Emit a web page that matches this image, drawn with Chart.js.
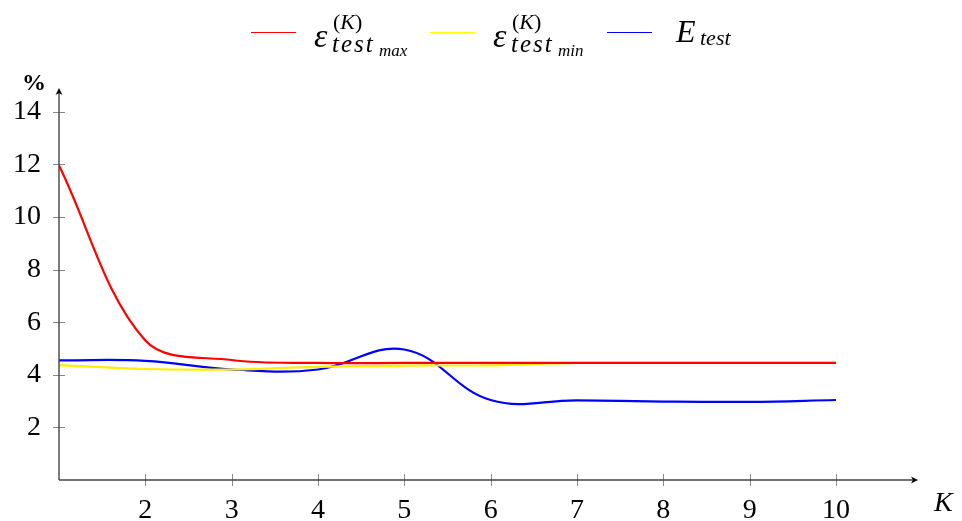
<!DOCTYPE html>
<html>
<head>
<meta charset="utf-8">
<script src="https://cdn.jsdelivr.net/npm/chart.js@4"></script>
<style>
    body { margin: 0; background: #fff; }
    #wrap { position: relative; width: 962px; height: 521px; font-family: "Liberation Serif", serif; }
    canvas { position: absolute; left: 0; top: 0; }
    .sw { position: absolute; top: 32px; height: 1.3px; width: 45px; }
    .t { position: absolute; line-height: 1; white-space: nowrap; font-style: italic; color: #000; }
    .ax { position: absolute; font-size: 28px; line-height: 1; }
</style>
</head>
<body>
<div id="wrap">
    <canvas id="myChart" width="962" height="521"></canvas>

    <!-- legend, drawn as text so the sub/superscripts stay real text -->
    <div class="sw" style="left:251px; background:#ff0000;"></div>
    <span class="t" style="left:314px; top:19px; font-size:34px;">ε</span>
    <span class="t" style="left:333px; top:11px; font-size:22px; font-style:normal;">(<i>K</i>)</span>
    <span class="t" style="left:332px; top:31px; font-size:25px; letter-spacing:2px;">test</span>
    <span class="t" style="left:379px; top:42px; font-size:17px;">max</span>

    <div class="sw" style="left:430px; background:#ffff00;"></div>
    <span class="t" style="left:493px; top:19px; font-size:34px;">ε</span>
    <span class="t" style="left:512px; top:11px; font-size:22px; font-style:normal;">(<i>K</i>)</span>
    <span class="t" style="left:511px; top:31px; font-size:25px; letter-spacing:2px;">test</span>
    <span class="t" style="left:558px; top:42px; font-size:17px;">min</span>

    <div class="sw" style="left:607px; background:#0000ff;"></div>
    <span class="t" style="left:676px; top:15px; font-size:32px;">E</span>
    <span class="t" style="left:700px; top:27px; font-size:22px;">test</span>

    <div class="ax" style="left:22px; top:70px; font-weight:bold; font-size:24px;">%</div>
    <div class="ax" style="left:934px; top:488px; font-style:italic;">K</div>
</div>

<script>
// x positions (K) and the three series, in %
const kValues = [1, 2, 3, 4, 5, 6, 7, 8, 9, 10];
const epsMax = [11.95, 5.3, 4.56, 4.45, 4.45, 4.45, 4.45, 4.45, 4.45, 4.45];
const epsMin = [4.37, 4.22, 4.2, 4.3, 4.35, 4.36, 4.45, 4.45, 4.45, 4.45];
const eTest = [4.55, 4.53, 4.2, 4.2, 4.96, 3.04, 3.03, 2.98, 2.97, 3.04];

const xTicks = [2, 3, 4, 5, 6, 7, 8, 9, 10];
const yTicks = [2, 4, 6, 8, 10, 12, 14];

function toPoints(ys) {
    return kValues.map((k, i) => ({ x: k, y: ys[i] }));
}

// axes with arrows and ticks crossing the axis line
const axesPlugin = {
    id: 'axes',
    afterDatasetsDraw(chart) {
        const ctx = chart.ctx;
        const xs = chart.scales.x;
        const ys = chart.scales.y;
        const x0 = xs.left, y0 = ys.bottom;
        const xEnd = xs.right, yEnd = ys.top;
        ctx.save();

        // ticks
        ctx.strokeStyle = '#888';
        ctx.lineWidth = 1;
        xTicks.forEach(t => {
            const px = Math.round(xs.getPixelForValue(t)) + 0.5;
            ctx.beginPath();
            ctx.moveTo(px, y0 - 6);
            ctx.lineTo(px, y0 + 6);
            ctx.stroke();
        });
        yTicks.forEach(t => {
            const py = Math.round(ys.getPixelForValue(t)) + 0.5;
            ctx.beginPath();
            ctx.moveTo(x0 - 6, py);
            ctx.lineTo(x0 + 6, py);
            ctx.stroke();
        });

        // axis lines
        ctx.strokeStyle = '#444';
        ctx.lineWidth = 1.4;
        ctx.beginPath();
        ctx.moveTo(x0, y0);
        ctx.lineTo(xEnd - 2, y0);
        ctx.moveTo(x0, y0);
        ctx.lineTo(x0, yEnd + 2);
        ctx.stroke();

        // arrow heads
        ctx.fillStyle = '#000';
        ctx.beginPath();
        ctx.moveTo(xEnd, y0);
        ctx.lineTo(xEnd - 7, y0 - 3.5);
        ctx.lineTo(xEnd - 5, y0);
        ctx.lineTo(xEnd - 7, y0 + 3.5);
        ctx.closePath();
        ctx.fill();
        ctx.beginPath();
        ctx.moveTo(x0, yEnd);
        ctx.lineTo(x0 - 3.5, yEnd + 7);
        ctx.lineTo(x0, yEnd + 5);
        ctx.lineTo(x0 + 3.5, yEnd + 7);
        ctx.closePath();
        ctx.fill();
        ctx.restore();
    }
};

function createChart() {
    const ctx = document.getElementById('myChart').getContext('2d');
    const tickFont = { family: '"Liberation Serif", serif', size: 28 };

    new Chart(ctx, {
        type: 'line',
        data: {
            datasets: [
                {
                    label: 'max',
                    data: toPoints(epsMax),
                    borderColor: '#ff0000',
                    borderWidth: 2.2,
                    tension: 0.35
                },
                {
                    label: 'min',
                    data: toPoints(epsMin),
                    borderColor: '#ffee00',
                    borderWidth: 2.2
                },
                {
                    label: 'test',
                    data: toPoints(eTest),
                    borderColor: '#0000ff',
                    borderWidth: 2.2
                }
            ]
        },
        options: {
            responsive: false,
            animation: false,
            events: [],
            layout: { padding: { top: 88, right: 44, left: 0, bottom: 0 } },
            elements: {
                point: { radius: 0 },
                line: { tension: 0.4, fill: false, cubicInterpolationMode: 'default' }
            },
            plugins: {
                legend: { display: false },
                tooltip: { enabled: false }
            },
            scales: {
                x: {
                    type: 'linear',
                    min: 1,
                    max: 10.95,
                    afterBuildTicks: scale => { scale.ticks = xTicks.map(v => ({ value: v })); },
                    afterFit: scale => { scale.height = 41; },
                    grid: { display: false },
                    border: { display: false },
                    ticks: { color: '#000', font: tickFont, padding: 6, maxRotation: 0, autoSkip: false }
                },
                y: {
                    type: 'linear',
                    min: 0,
                    max: 14.9,
                    afterBuildTicks: scale => { scale.ticks = yTicks.map(v => ({ value: v })); },
                    afterFit: scale => { scale.width = 59; },
                    grid: { display: false },
                    border: { display: false },
                    ticks: { color: '#000', font: tickFont, padding: 10, autoSkip: false }
                }
            }
        },
        plugins: [axesPlugin]
    });
}

createChart();
</script>
</body>
</html>
